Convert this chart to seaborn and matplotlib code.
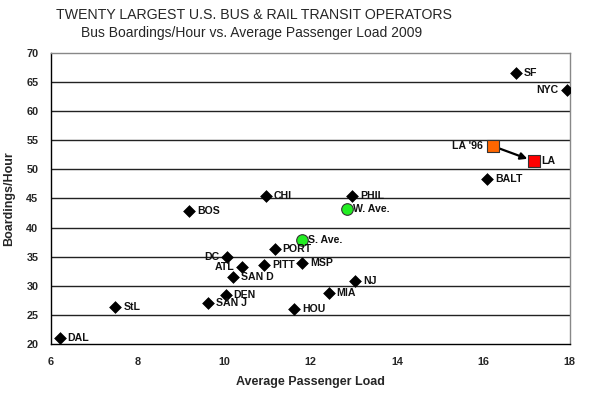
import numpy as np
import pandas as pd
import matplotlib
matplotlib.use('Agg')
import matplotlib.pyplot as plt
import seaborn as sns

# operators (black diamonds)
names = ['SF', 'NYC', 'BALT', 'PHIL', 'CHI', 'BOS', 'PORT', 'DC', 'ATL', 'PITT',
         'MSP', 'SAN D', 'NJ', 'MIA', 'DEN', 'SAN J', 'StL', 'HOU', 'DAL']
load = [16.75, 17.93, 16.08, 12.96, 10.97, 9.19, 11.17, 10.08, 10.42, 10.92,
        11.80, 10.20, 13.04, 12.42, 10.04, 9.64, 7.49, 11.63, 6.20]
boardings = [66.6, 63.6, 48.3, 45.5, 45.5, 42.8, 36.3, 35.0, 33.2, 33.5,
             33.9, 31.5, 30.9, 28.7, 28.4, 27.0, 26.3, 26.1, 21.1]
left_labels = ['NYC', 'DC', 'ATL']

# LA then and now
la_names = ["LA '96", 'LA']
la_load = [16.22, 17.17]
la_boardings = [54.0, 51.4]
la_colors = ['#FF6600', '#FF0000']

# averages (green circles)
avg_names = ['W. Ave.', 'S. Ave.']
avg_load = [12.84, 11.80]
avg_boardings = [43.2, 37.8]

ops = pd.DataFrame({'name': names, 'load': load, 'boardings': boardings})
la = pd.DataFrame({'name': la_names, 'load': la_load, 'boardings': la_boardings})
avg = pd.DataFrame({'name': avg_names, 'load': avg_load, 'boardings': avg_boardings})

sns.set_style('white')
plt.rcParams['font.family'] = ['Liberation Sans', 'DejaVu Sans']

fig = plt.figure(figsize=(5.95, 3.95), dpi=100)
ax = fig.add_axes([0.0857, 0.129, 0.872, 0.737])

for yv in range(25, 70, 5):
    ax.axhline(yv, color='#222222', lw=1.0, zorder=0)

# arrow from LA '96 to LA
ax.annotate('', xy=(la_load[1], la_boardings[1]), xytext=(la_load[0], la_boardings[0]),
            arrowprops=dict(arrowstyle='-|>', color='black', lw=1.6, mutation_scale=10,
                            shrinkA=3, shrinkB=5), zorder=2)

sns.scatterplot(data=ops, x='load', y='boardings', marker='D', color='black',
                s=36, edgecolor='black', ax=ax, zorder=3)
sns.scatterplot(data=avg, x='load', y='boardings', marker='o', color='#22EE22',
                s=70, edgecolor='#333333', linewidth=0.8, ax=ax, zorder=3)
sns.scatterplot(data=la, x='load', y='boardings', marker='s', hue='name',
                palette=dict(zip(la_names, la_colors)), s=80, edgecolor='#333333',
                linewidth=0.8, legend=False, ax=ax, zorder=3)

def label(name, x, y, left=False, dx=5.8):
    off = -dx if left else dx
    ax.annotate(name, (x, y), xytext=(off, 0), textcoords='offset points',
                ha='right' if left else 'left', va='center', fontsize=7.6,
                fontweight='bold', color='#111111', zorder=4)

for n, x, y in zip(names, load, boardings):
    label(n, x, y, left=n in left_labels)
for n, x, y in zip(avg_names, avg_load, avg_boardings):
    label(n, x, y, dx=4.5)
label(la_names[0], la_load[0], la_boardings[0], left=True, dx=7)
label(la_names[1], la_load[1], la_boardings[1], dx=5.5)

ax.set_xlim(6, 18)
ax.set_ylim(20, 70)
ax.set_xticks(range(6, 19, 2))
ax.set_yticks(range(20, 71, 5))
ax.tick_params(axis='both', which='both', direction='out', length=4, width=1,
               labelsize=7.8, color='black', pad=5)
for t in ax.get_xticklabels() + ax.get_yticklabels():
    t.set_fontweight('bold')
ax.spines['left'].set_color('black')
ax.spines['bottom'].set_color('black')
ax.spines['top'].set_color('#888888')
ax.spines['right'].set_color('#888888')
for s in ax.spines.values():
    s.set_linewidth(1.0)

ax.set_xlabel('Average Passenger Load', fontsize=9, fontweight='bold', labelpad=7)
ax.set_ylabel('Boardings/Hour', fontsize=9, fontweight='bold', labelpad=8)

fig.text(0.427, 0.962, 'TWENTY LARGEST U.S. BUS & RAIL TRANSIT OPERATORS',
         ha='center', va='center', fontsize=10.2)
fig.text(0.422, 0.917, 'Bus Boardings/Hour vs. Average Passenger Load 2009',
         ha='center', va='center', fontsize=10)

plt.savefig('out.png', dpi=100)
plt.close()
